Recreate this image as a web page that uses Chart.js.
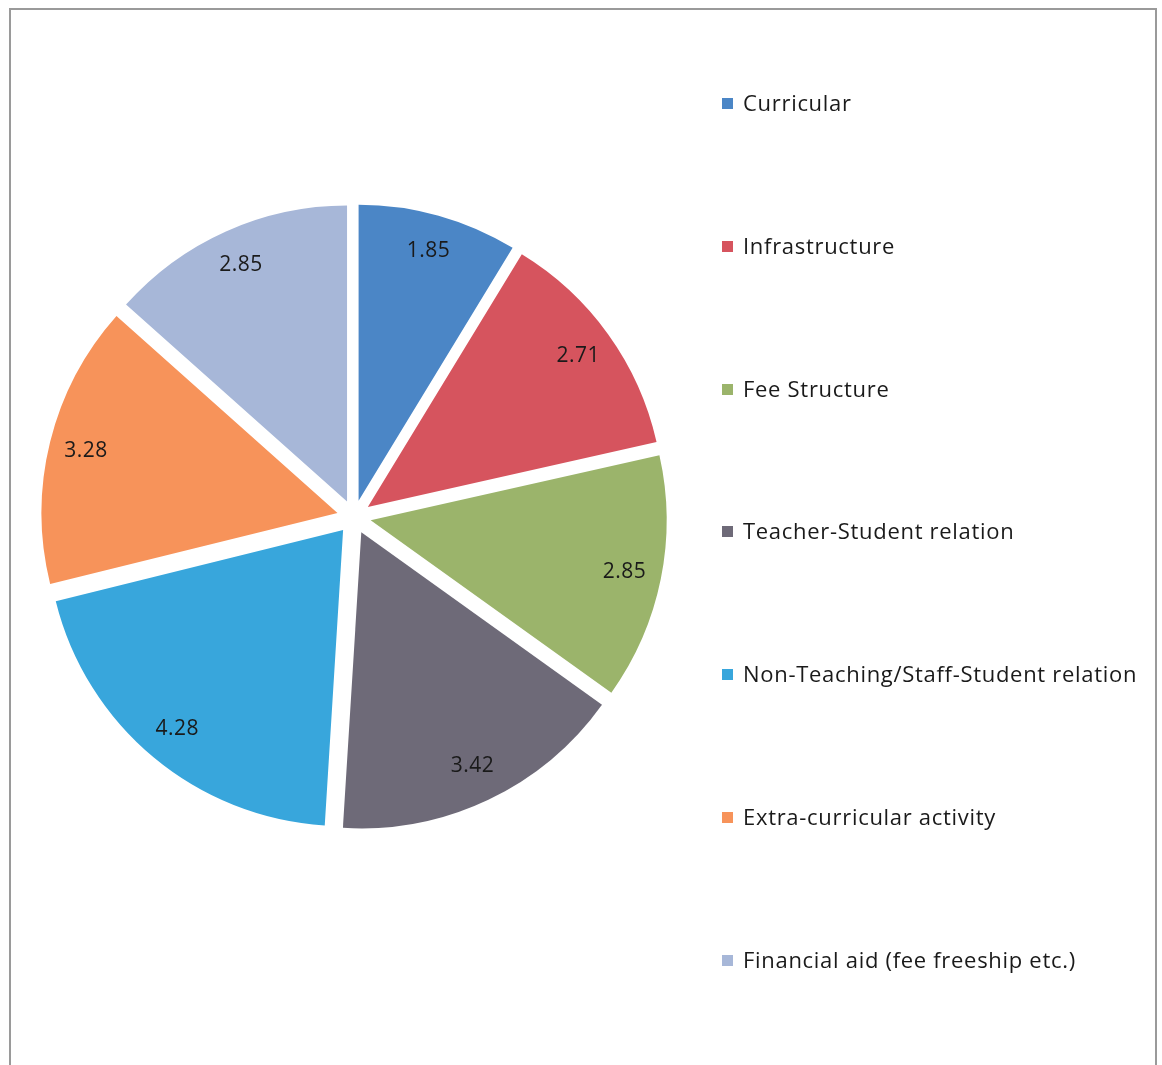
<!DOCTYPE html>
<html>
<head>
<meta charset="utf-8">
<script src="https://cdn.jsdelivr.net/npm/chart.js"></script>
<style>
  html, body { margin: 0; padding: 0; background: #fff; }
  #wrap { position: relative; width: 1162px; height: 1065px; overflow: hidden; }
  #frame { position: absolute; left: 9px; top: 8px; width: 1148px; height: 1100px;
           border: 2px solid #9a9a9a; box-sizing: border-box; }
  #pie { position: absolute; left: 0; top: 0; }
  #legend { position: absolute; left: 720px; top: 87px; margin: 0; padding: 0; list-style: none;
            font-family: "Open Sans", Lato, sans-serif; font-size: 22px; letter-spacing: 0.7px;
            color: #1a1a1a; }
  #legend li { height: 142.8px; display: flex; align-items: flex-start; white-space: nowrap; }
  #legend .box { width: 11px; height: 11px; margin: 11px 10px 0 2px; flex: none; }
</style>
</head>
<body>
<div id="wrap">
  <div id="frame"></div>
  <canvas id="pie" width="1162" height="1065"></canvas>
  <ul id="legend"></ul>
</div>
<script>
const categories = [
  'Curricular',
  'Infrastructure',
  'Fee Structure',
  'Teacher-Student relation',
  'Non-Teaching/Staff-Student relation',
  'Extra-curricular activity',
  'Financial aid (fee freeship etc.)'
];
const scores = [1.85, 2.71, 2.85, 3.42, 4.28, 3.28, 2.85];
const sliceColors = ['#4b86c6', '#d6545e', '#9bb46b', '#6e6a78', '#38a6dc', '#f7935a', '#a7b7d8'];

// Excel-style explosion: push every slice out along its middle angle
const explode = {
  id: 'explode',
  afterDatasetsUpdate(chart) {
    chart.getDatasetMeta(0).data.forEach(arc => {
      const mid = (arc.startAngle + arc.endAngle) / 2;
      arc.x += Math.cos(mid) * 17;
      arc.y += Math.sin(mid) * 17;
    });
  }
};

// value labels inside the slices
const sliceLabels = {
  id: 'sliceLabels',
  afterDatasetsDraw(chart) {
    const ctx = chart.ctx;
    const ds = chart.data.datasets[0];
    ctx.save();
    ctx.font = '21px "Open Sans", Lato, sans-serif';
    ctx.letterSpacing = '0.5px';
    ctx.fillStyle = '#1a1a1a';
    ctx.textAlign = 'center';
    ctx.textBaseline = 'middle';
    chart.getDatasetMeta(0).data.forEach((arc, i) => {
      const mid = (arc.startAngle + arc.endAngle) / 2;
      const d = arc.outerRadius * 0.875;
      ctx.fillText(ds.data[i].toFixed(2), arc.x + Math.cos(mid) * d, arc.y + Math.sin(mid) * d);
    });
    ctx.restore();
  }
};

const chart = new Chart(document.getElementById('pie'), {
  type: 'pie',
  data: {
    labels: categories,
    datasets: [{
      data: scores,
      backgroundColor: sliceColors,
      borderWidth: 0
    }]
  },
  options: {
    responsive: false,
    animation: false,
    layout: { padding: { left: 58, right: 512, top: 221, bottom: 252 } },
    plugins: {
      legend: { display: false },
      tooltip: { enabled: false }
    }
  },
  plugins: [explode, sliceLabels]
});

// legend list built from the chart's own legend items
const ul = document.getElementById('legend');
chart.options.plugins.legend.labels.generateLabels(chart).forEach(item => {
  const li = document.createElement('li');
  const box = document.createElement('span');
  box.className = 'box';
  box.style.background = item.fillStyle;
  li.appendChild(box);
  li.appendChild(document.createTextNode(item.text));
  ul.appendChild(li);
});
</script>
</body>
</html>
